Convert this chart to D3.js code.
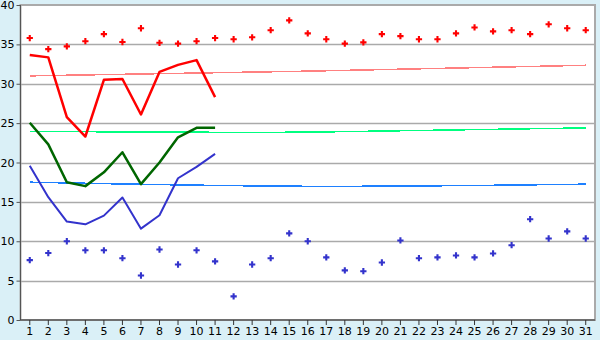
<!DOCTYPE html>
<html>
<head>
<meta charset="utf-8">
<script src="https://cdn.jsdelivr.net/npm/d3@7"></script>
<style>
  body { margin: 0; background: #daf0f7; }
  svg { display: block; }
  .axis text { font-family: "DejaVu Sans", Verdana, sans-serif; font-size: 11px; fill: #000; }
</style>
</head>
<body>
<script>
const width = 600,
      height = 340;

// days of the month
const days = d3.range(1, 32);

// daily values
const maxPoints = [35.8, 34.4, 34.75, 35.4, 36.3, 35.3, 37.05, 35.2, 35.1, 35.4, 35.8,
  35.65, 35.9, 36.8, 38.05, 36.4, 35.65, 35.1, 35.25, 36.3, 36.05, 35.65, 35.65,
  36.4, 37.15, 36.65, 36.8, 36.3, 37.55, 37.05, 36.8];
const minPoints = [7.6, 8.5, 10.0, 8.85, 8.85, 7.85, 5.65, 8.95, 7.05, 8.85, 7.45,
  3.0, 7.05, 7.85, 11.0, 10.0, 7.95, 6.3, 6.2, 7.3, 10.1, 7.85, 7.95, 8.2, 7.95,
  8.45, 9.5, 12.8, 10.35, 11.25, 10.35];
const redLine = [33.65, 33.35, 25.75, 23.3, 30.5, 30.6, 26.1, 31.5, 32.4, 33.0, 28.3];
const greenLine = [25.05, 22.3, 17.5, 17.0, 18.75, 21.3, 17.25, 20.0, 23.2, 24.4, 24.4];
const blueLine = [19.6, 15.6, 12.5, 12.15, 13.25, 15.55, 11.6, 13.3, 18.0, 19.45, 21.1];

// trend lines: values at day 1, 16 and 31
const trendDays = [1, 16, 31];
const redTrend = [31.0, 31.6, 32.35];
const greenTrend = [23.95, 23.85, 24.4];
const blueTrend = [17.5, 16.98, 17.25];

const yTicks = d3.range(0, 41, 5);

const margin = {top: 5, right: 5, bottom: 20, left: 20.5};

const svg = d3.select("body")
    .append("svg")
    .attr("width", width)
    .attr("height", height);

const x = d3.scaleBand()
    .domain(days)
    .range([margin.left, width - margin.right]);

const y = d3.scaleLinear()
    .domain([0, 40])
    .range([height - margin.bottom, margin.top]);

const cx = d => x(d) + x.bandwidth() / 2;

// plot background
svg.append("rect")
    .attr("x", margin.left)
    .attr("y", margin.top)
    .attr("width", width - margin.right - margin.left)
    .attr("height", height - margin.bottom - margin.top)
    .attr("fill", "#fff")
    .attr("stroke", "#aaa")
    .attr("stroke-width", 2);

// gridlines
svg.append("g")
    .selectAll("line")
    .data(yTicks.slice(1, -1))
    .enter().append("line")
    .attr("x1", margin.left)
    .attr("x2", width - margin.right)
    .attr("y1", d => Math.round(y(d)) + 0.5)
    .attr("y2", d => Math.round(y(d)) + 0.5)
    .attr("stroke", "#aaa")
    .attr("stroke-width", 1.5);

// trend lines, drawn crisp so they step like the original
const trend = d3.line()
    .x(d => cx(d[0]))
    .y(d => y(d[1]))
    .curve(d3.curveNatural);

[[redTrend, "#ff8080"], [greenTrend, "#00ff80"], [blueTrend, "#1e80ff"]].forEach(([vals, col]) => {
  svg.append("path")
      .datum(trendDays.map((d, i) => [d, vals[i]]))
      .attr("d", trend)
      .attr("fill", "none")
      .attr("stroke", col)
      .attr("stroke-width", 1.5)
      .attr("shape-rendering", "crispEdges");
});

// daily lines
const line = d3.line()
    .x((d, i) => cx(days[i]))
    .y(d => y(d));

[[redLine, "#ff0000"], [greenLine, "#006600"], [blueLine, "#3333cc"]].forEach(([vals, col]) => {
  svg.append("path")
      .datum(vals)
      .attr("d", line)
      .attr("fill", "none")
      .attr("stroke", col)
      .attr("stroke-width", col == "#3333cc" ? 2 : 2.5)
      .attr("stroke-linejoin", "round");
});

// max / min markers
const cross = d3.symbol().type(d3.symbolCross).size(22);

[[maxPoints, "#ff0000"], [minPoints, "#3333cc"]].forEach(([vals, col]) => {
  svg.append("g")
      .selectAll("path")
      .data(vals)
      .enter().append("path")
      .attr("d", cross)
      .attr("transform", (d, i) => `translate(${cx(days[i])},${y(d)})`)
      .attr("fill", col);
});

// axes
svg.append("g")
    .attr("class", "axis")
    .attr("transform", `translate(${margin.left},0)`)
    .call(d3.axisLeft(y).tickValues(yTicks).tickSize(4).tickPadding(2))
    .call(g => g.selectAll("line,path").attr("stroke", "#555"))
    .call(g => g.select(".domain").attr("d", `M0,${margin.top}V${height - margin.bottom}`));

svg.append("g")
    .attr("class", "axis")
    .attr("transform", `translate(0,${height - margin.bottom})`)
    .call(d3.axisBottom(x).tickSize(5).tickPadding(2))
    .call(g => g.selectAll("line,path").attr("stroke", "#333"))
    .call(g => g.select(".domain").attr("d", `M${margin.left},0H${width - margin.right}`));
</script>
</body>
</html>
